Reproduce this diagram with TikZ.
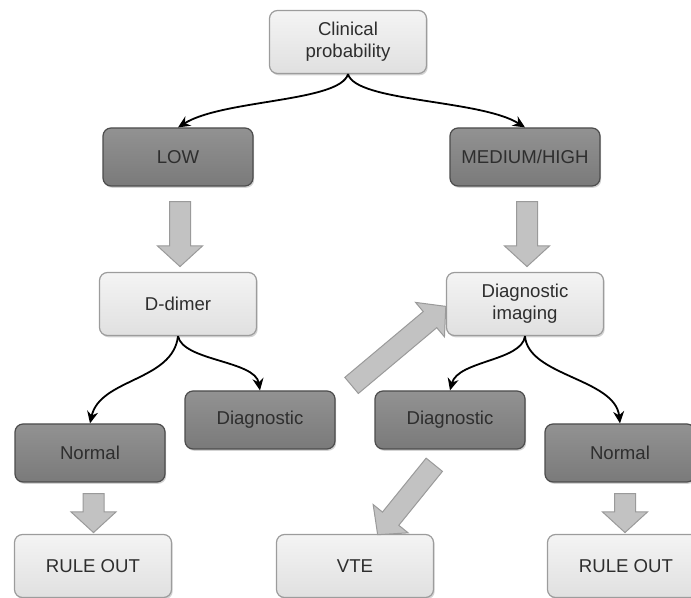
\documentclass[tikz,border=0pt]{standalone}
\usepackage{fontspec}
\setmainfont{Liberation Sans}
\usepackage{xcolor}
\usepackage{tikz}
\usetikzlibrary{shapes,arrows,positioning,calc,shadows,arrows.meta}

\definecolor{txtgray}{HTML}{2E2E2E}
\definecolor{lighttop}{HTML}{F4F4F4}
\definecolor{lightbot}{HTML}{E0E0E0}
\definecolor{lightedge}{HTML}{9C9C9C}
\definecolor{darktop}{HTML}{929292}
\definecolor{darkbot}{HTML}{7A7A7A}
\definecolor{darkedge}{HTML}{4C4C4C}
\definecolor{fatmid}{HTML}{E6E6E6}
\definecolor{fatside}{HTML}{C2C2C2}
\definecolor{fatedge}{HTML}{9A9A9A}

\tikzset{
    flowbox/.style={rectangle, rounded corners=4pt, line width=0.6pt, align=center,
        font=\fontsize{9.3}{11}\selectfont, text=txtgray,
        drop shadow={shadow xshift=0.6pt, shadow yshift=-0.9pt, opacity=0.35}},
    lightbox/.style={flowbox, draw=lightedge, top color=lighttop, bottom color=lightbot,
        minimum width=78.5pt, minimum height=31.5pt},
    darkbox/.style={flowbox, draw=darkedge, top color=darktop, bottom color=darkbot,
        minimum width=75pt, minimum height=29pt},
    fatarrow/.style={single arrow, draw=fatedge, line width=0.5pt,
        top color=fatside, middle color=fatmid, bottom color=fatside,
        inner sep=0pt, inner ysep=5pt, single arrow head extend=6pt,
        single arrow tip angle=95},
    link/.style={-{Stealth[length=6pt,width=5.5pt]}, line width=0.9pt, black}
}

\begin{document}
\begin{tikzpicture}[x=0.5pt,y=-0.5pt]
    \useasboundingbox (0,0) rectangle (691,598);
    \clip (0,0) rectangle (691,598);

    % Boxes
    \node[lightbox] (clin) at (348,42) {Clinical\\probability};
    \node[darkbox] (low) at (178,157) {LOW};
    \node[darkbox] (med) at (525,157) {MEDIUM/HIGH};
    \node[lightbox] (dimer) at (178,304) {D-dimer};
    \node[lightbox] (imaging) at (525,304) {Diagnostic\\imaging};
    \node[darkbox] (diagL) at (260,420) {Diagnostic};
    \node[darkbox] (diagR) at (450,420) {Diagnostic};
    \node[darkbox] (normL) at (90,453) {Normal};
    \node[darkbox] (normR) at (620,453) {Normal};
    \node[lightbox] (ruleL) at (93,566) {RULE OUT};
    \node[lightbox] (vte) at (355,566) {VTE};
    \node[lightbox] (ruleR) at (626,566) {RULE OUT};

    % Curved links
    \draw[link] (clin.south) .. controls +(-8,28) and +(45,-28) .. (low.north);
    \draw[link] (clin.south) .. controls +(8,28) and +(-45,-28) .. (med.north);
    \draw[link] (dimer.south) .. controls +(-5,45) and +(10,-45) .. (normL.north);
    \draw[link] (dimer.south) .. controls +(5,25) and +(-5,-30) .. (diagL.north);
    \draw[link] (imaging.south) .. controls +(-3,25) and +(8,-30) .. (diagR.north);
    \draw[link] (imaging.south) .. controls +(3,40) and +(-5,-45) .. (normR.north);

    % Block arrows
    \foreach \a/\b/\len/\n in {low/dimer/32.5/a1, med/imaging/32.5/a2, normL/ruleL/19.5/a3, normR/ruleR/19.5/a4} {
        \node[fatarrow, rotate=-90, minimum height=\len pt] (\n) at ($(\a.south)!0.5!(\b.north)+(2,0)$) {};
    }
    \node[fatarrow, rotate=40, minimum height=61.5pt] (a5) at (395,349) {};
    \node[fatarrow, rotate=-129, minimum height=45pt] (a6) at (409,496) {};
\end{tikzpicture}
\end{document}
